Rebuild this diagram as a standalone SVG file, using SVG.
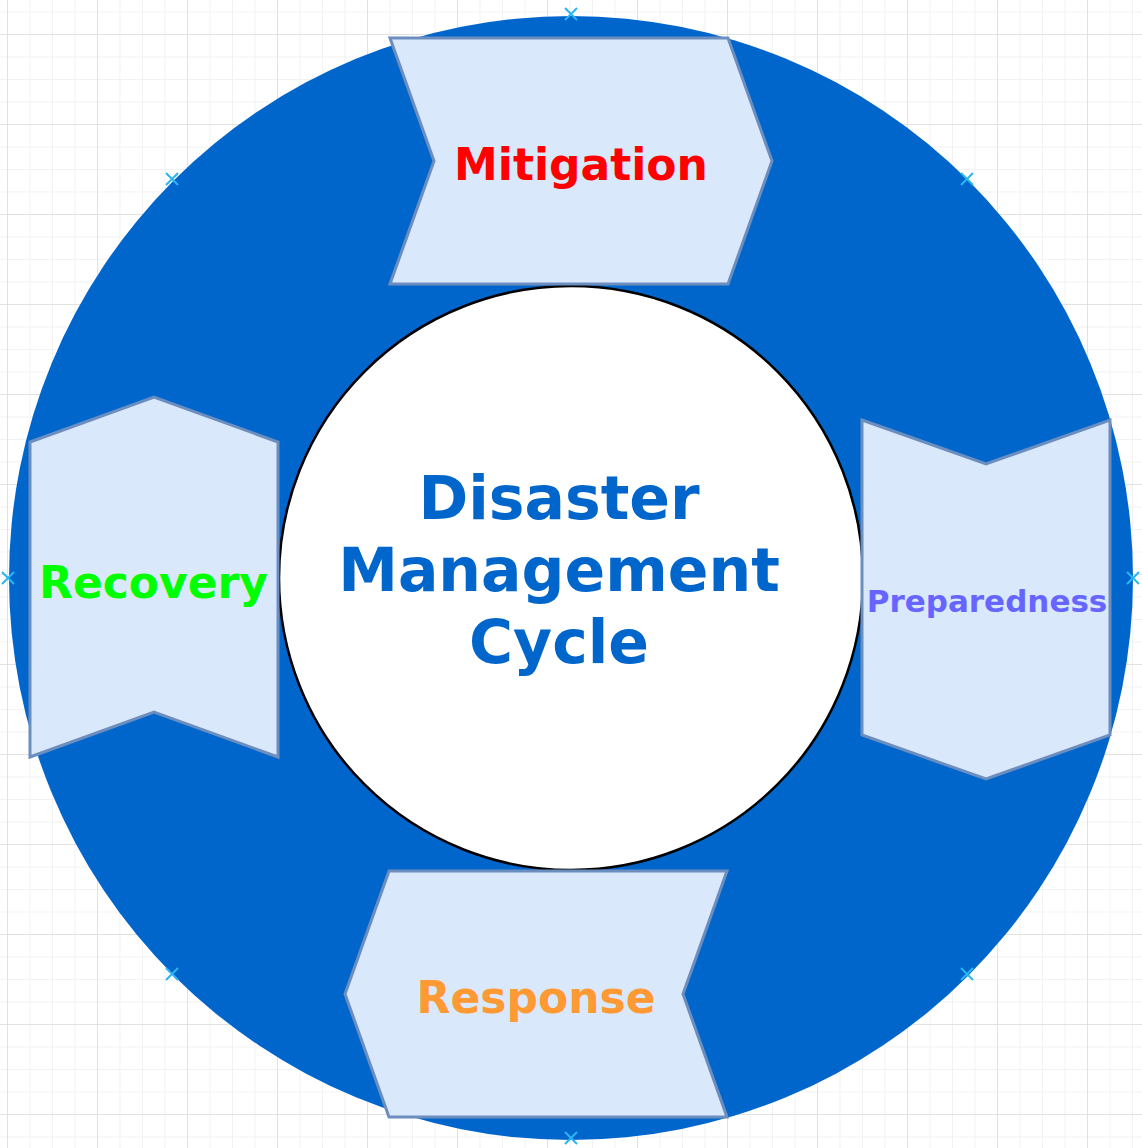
<svg xmlns="http://www.w3.org/2000/svg" width="1142" height="1148" viewBox="0 0 1142 1148">
  <defs>
    <pattern id="minor" x="7" y="11.5" width="22.5" height="22.5" patternUnits="userSpaceOnUse">
      <path d="M0 0H22.5M0 0V22.5" fill="none" stroke="#f2f2f2" stroke-width="2"/>
    </pattern>
    <pattern id="major" x="7" y="34" width="90" height="90" patternUnits="userSpaceOnUse">
      <path d="M0 0H90M0 0V90" fill="none" stroke="#dddddd" stroke-width="1.5"/>
    </pattern>
    <g id="mk">
      <path d="M-6 -6L6 6M-6 6L6 -6" stroke="#29b6f2" stroke-width="2" fill="none"/>
    </g>
  </defs>
  <style>
    .shape { fill: #dae8fc; stroke: #6c8ebf; stroke-width: 3; stroke-linejoin: miter; }
    .lbl { font-family: "DejaVu Sans", Verdana, sans-serif; font-weight: bold; text-anchor: middle; }
  </style>
  <rect width="1142" height="1148" fill="#ffffff"/>
  <rect width="1142" height="1148" fill="url(#minor)"/>
  <rect width="1142" height="1148" fill="url(#major)"/>

  <g id="outer-ring">
    <circle cx="571" cy="578" r="562" fill="#0066cc"/>
  </g>

  <g id="connectors"></g>

  <g id="markers">
    <use href="#mk" x="571" y="14"/>
    <use href="#mk" x="8" y="578"/>
    <use href="#mk" x="1133" y="578"/>
    <use href="#mk" x="571" y="1138"/>
    <use href="#mk" x="172" y="179"/>
    <use href="#mk" x="967" y="179"/>
    <use href="#mk" x="172" y="974"/>
    <use href="#mk" x="967" y="974"/>
  </g>

  <g id="center">
    <circle cx="571" cy="578" r="292" fill="#ffffff" stroke="#000000" stroke-width="2.5"/>
    <text class="lbl" x="559" y="519" font-size="60" fill="#0066cc">Disaster</text>
    <text class="lbl" x="559" y="591" font-size="60" fill="#0066cc">Management</text>
    <text class="lbl" x="559" y="663" font-size="60" fill="#0066cc">Cycle</text>
  </g>

  <g id="mitigation">
    <polygon class="shape" points="390,38 728,38 772,161 728,284 390,284 434,161"/>
    <text class="lbl" x="581" y="180" font-size="44" fill="#ff0000">Mitigation</text>
  </g>

  <g id="preparedness">
    <polygon class="shape" points="862,420 986,464 1110,420 1110,735 986,779 862,735"/>
    <text class="lbl" x="987" y="612" font-size="31" fill="#6666ff">Preparedness</text>
  </g>

  <g id="response">
    <polygon class="shape" points="389,871 727,871 683,994 727,1117 389,1117 345,994"/>
    <text class="lbl" x="536" y="1013" font-size="44" fill="#ff9933">Response</text>
  </g>

  <g id="recovery">
    <polygon class="shape" points="30,442 154,397 278,442 278,757 154,712 30,757"/>
    <text class="lbl" x="153.5" y="598" font-size="44" fill="#00ff00">Recovery</text>
  </g>
</svg>
